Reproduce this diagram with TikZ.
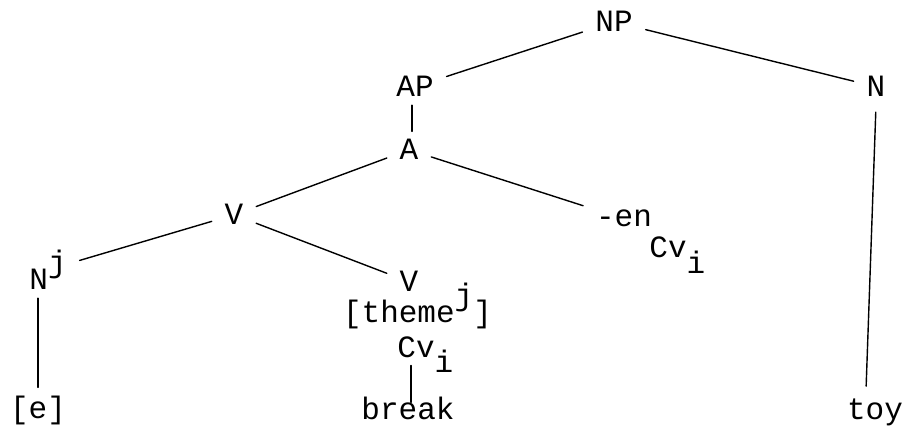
\documentclass[tikz,border=0pt]{standalone}
\usepackage{fontspec}
\setmonofont{Liberation Mono}
\usetikzlibrary{calc}
\newcommand{\upj}{\raisebox{0.58em}{j}}
\newcommand{\dni}{\rlap{\smash{\raisebox{-0.5em}{i}}}}

\begin{document}
\begin{tikzpicture}[x=1pt,y=-1pt,line cap=round,
 cat/.style={anchor=base,inner sep=8pt,font=\fontsize{31}{31}\selectfont\ttfamily},
 branch/.style={line width=1.4pt},
 diag/.style={branch,shorten <=5pt,shorten >=5pt}]
\useasboundingbox (0,0) rectangle (907,427);
% Górna część drzewa.
\node[cat] (np) at (614,32) {NP};
\node[cat] (ap) at (415,97) {AP};
\node[cat] (nr) at (876,97) {N};
\node[cat] (a) at (409,160) {A};
% Poziom V i sufiks.
\node[cat] (vup) at (234,225) {V};
\node[cat] (en) at (624,227) {-en};
\node[cat] (cvr) at (668,258) {Cv\dni};
\node[cat] (nj) at (48,290) {N\upj};
\node[cat] (vlo) at (409,292) {V};
\node[cat] (theme) at (417.5,323) {[theme\upj]};
\node[cat] (cvl) at (416,357) {Cv\dni};
% Liście.
\node[cat] (e) at (38,418) {[e]};
\node[cat] (brk) at (408,419) {break};
\node[cat] (toy) at (875,419) {toy};
% Gałęzie.
\draw[diag] (np)--(ap);
\draw[diag] (np)--(nr);
\draw[branch] ([xshift=-3pt]ap.south)--([xshift=-3pt]ap.south |- a.north);
\draw[diag] (a)--(vup);
\draw[diag] (a)--(en);
\draw[diag] (vup)--(nj);
\draw[diag] (vup)--(vlo);
\draw[branch] (e.north)--(e.north |- nj.south);
\draw[branch] ([xshift=3pt,yshift=-14pt]brk.north)--([xshift=3pt]brk.north |- cvl.south);
\draw[branch,shorten <=7pt,shorten >=4pt] (nr.south)--([xshift=-9pt]toy.north);
\end{tikzpicture}
\end{document}
